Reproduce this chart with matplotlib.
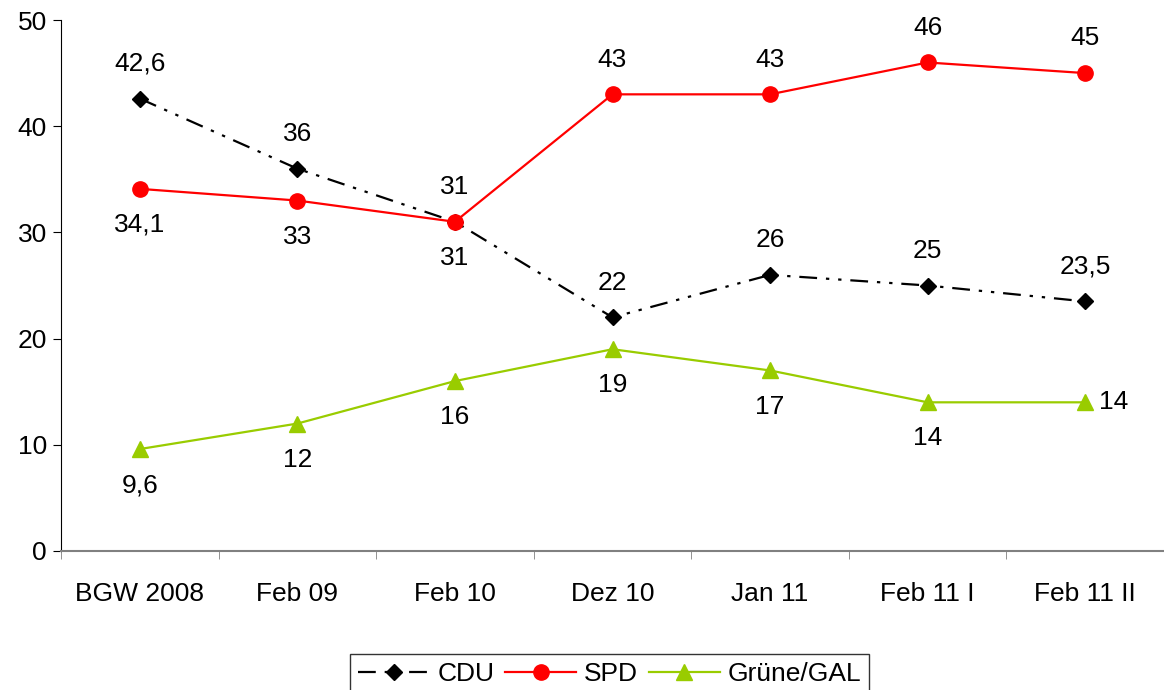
import matplotlib.pyplot as plt

plt.rcParams['font.family'] = ['Liberation Sans', 'DejaVu Sans']

#---DATA-----------------------------------------------------------------
categories = ['BGW 2008', 'Feb 09', 'Feb 10', 'Dez 10', 'Jan 11', 'Feb 11 I', 'Feb 11 II']
cdu = [42.6, 36, 31, 22, 26, 25, 23.5]
spd = [34.1, 33, 31, 43, 43, 46, 45]
gruene = [9.6, 12, 16, 19, 17, 14, 14]

cdu_pos = ['above'] * 7
spd_pos = ['below', 'below', 'below', 'above', 'above', 'above', 'above']
gruene_pos = ['below'] * 6 + ['right']

FS = 19

#---PLOT-----------------------------------------------------------------
fig = plt.figure(figsize=(11.64, 6.90), dpi=100)
ax = fig.add_axes([61/1164, 1-551/690, 1-61/1164, (551-20)/690])

x = list(range(len(categories)))
ax.plot(x, cdu, color='black', linestyle=(0, (8, 4, 1.5, 4, 1.5, 4)), lw=1.6,
        marker='D', markersize=8, label='CDU')
ax.plot(x, spd, color='#FF0000', lw=1.6, marker='o', markersize=11, label='SPD')
ax.plot(x, gruene, color='#99CC00', lw=1.6, marker='^', markersize=11, label='Grüne/GAL')

def fmt(v):
  s = ('%g' % v).replace('.', ',')
  return s

def labels(vals, pos):
  for i, (v, p) in enumerate(zip(vals, pos)):
    if p == 'above':
      ax.annotate(fmt(v), (i, v), xytext=(0, 25), textcoords='offset points',
                  ha='center', va='center', fontsize=FS)
    elif p == 'below':
      ax.annotate(fmt(v), (i, v), xytext=(0, -26), textcoords='offset points',
                  ha='center', va='center', fontsize=FS)
    else:
      ax.annotate(fmt(v), (i, v), xytext=(10, 0), textcoords='offset points',
                  ha='left', va='center', fontsize=FS)

labels(cdu, cdu_pos)
labels(spd, spd_pos)
labels(gruene, gruene_pos)

ax.set_xlim(-0.5, len(categories) - 0.5)
ax.set_ylim(0, 50)
ax.set_yticks(range(0, 51, 10))
ax.set_xticks(x)
ax.set_xticklabels(categories)
ax.set_xticks([i - 0.5 for i in range(len(categories) + 1)], minor=True)
ax.tick_params(axis='x', which='major', length=0, pad=22, labelsize=FS)
ax.tick_params(axis='x', which='minor', length=6, color='#808080')
ax.tick_params(axis='y', length=6, labelsize=FS, pad=4)

ax.spines['top'].set_visible(False)
ax.spines['right'].set_visible(False)
ax.spines['bottom'].set_color('#808080')
ax.spines['bottom'].set_linewidth(1.5)

leg = fig.legend(loc='lower center', bbox_to_anchor=(0.524, -0.025), ncol=3,
                 fontsize=FS, frameon=True, fancybox=False, edgecolor='black',
                 handlelength=2.7, handletextpad=0.3, columnspacing=0.4,
                 borderpad=0.3)
leg.get_frame().set_linewidth(1.0)

fig.savefig('out.png', dpi=100)
